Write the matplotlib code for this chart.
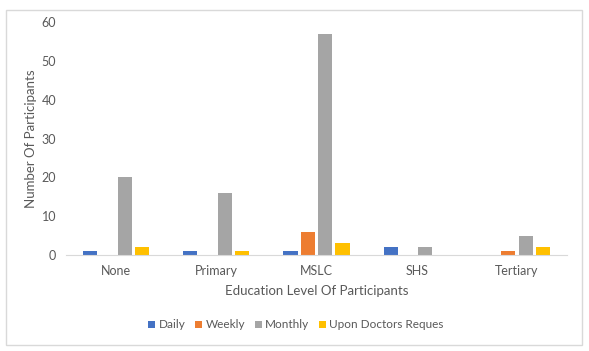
import matplotlib
matplotlib.use("Agg")
from matplotlib import pyplot as plt
from matplotlib.patches import Rectangle
import numpy as np

plt.rcParams['font.family'] = ['Lato', 'DejaVu Sans']

categories = ['None', 'Primary', 'MSLC', 'SHS', 'Tertiary']
series_names = ['Daily', 'Weekly', 'Monthly', 'Upon Doctors Reques']
daily = [1, 1, 1, 2, 0]
weekly = [0, 0, 6, 0, 1]
monthly = [20, 16, 57, 2, 5]
upon_request = [2, 1, 3, 0, 2]
colors = ['#4472C4', '#ED7D31', '#A5A5A5', '#FFC000']

text_col = '#595959'

fig = plt.figure(figsize=(5.89, 3.51), dpi=100)
ax = fig.add_axes([66/589, 1-255/351, (567-66)/589, (255-22)/351])

x = np.arange(len(categories))
width = 0.14
step = 0.173
all_series = [daily, weekly, monthly, upon_request]
for i, (vals, name, col) in enumerate(zip(all_series, series_names, colors)):
    ax.bar(x + (i - 1.5) * step, vals, width, color=col, label=name)

ax.set_xlim(-0.5, len(categories) - 0.5)
ax.set_ylim(0, 60)
ax.set_yticks(range(0, 61, 10))
ax.set_xticks(x)
ax.set_xticklabels(categories)
for s in ['top', 'right', 'left']:
    ax.spines[s].set_visible(False)
ax.spines['bottom'].set_color('#D9D9D9')
ax.tick_params(axis='both', length=0, colors=text_col, labelsize=9)
ax.tick_params(axis='x', pad=7)
ax.tick_params(axis='y', pad=7)

ax.set_xlabel('Education Level Of Participants', color=text_col, fontsize=9.5, labelpad=6)
ax.set_ylabel('Number Of Participants', color=text_col, fontsize=9.5, labelpad=3)

leg = fig.legend(loc='center', bbox_to_anchor=(296/589, 1-325/351), ncol=4, frameon=False,
                 fontsize=8.5, handlelength=0.6, handleheight=0.6, handletextpad=0.3,
                 columnspacing=0.8)
for t in leg.get_texts():
    t.set_color(text_col)

fig.patches.append(Rectangle((6/589, 1-345/351), (582-6)/589, (345-10)/351,
                             transform=fig.transFigure, fill=False,
                             edgecolor='#D9D9D9', linewidth=1))

fig.savefig('out.png', dpi=100)
